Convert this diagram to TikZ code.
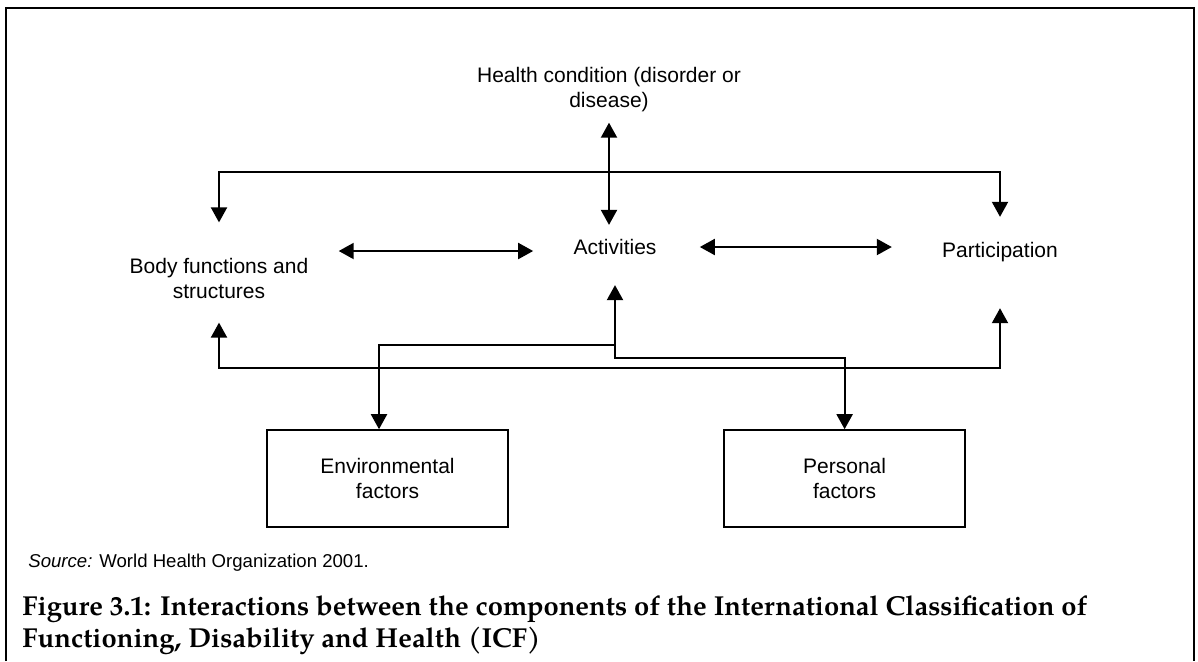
\documentclass[tikz,border=0pt]{standalone}
\usepackage{fontspec}
\setmainfont{Liberation Sans}
\newfontfamily\capfont{TeX Gyre Pagella}
\usetikzlibrary{arrows.meta, positioning}

\begin{document}
\begin{tikzpicture}[
    x=0.5pt, y=-0.5pt,
    every node/.style={font=\fontsize{10.5}{12.5}\selectfont, inner sep=0pt},
    term/.style={align=center},
    factor/.style={rectangle, draw, line width=0.8pt, minimum width=120.5pt, minimum height=48.5pt, align=center},
    arrow/.style={-{Triangle[length=7.5pt, width=8pt]}, line width=1pt},
    dblarrow/.style={{Triangle[length=7.5pt, width=8pt]}-{Triangle[length=7.5pt, width=8pt]}, line width=1pt}
  ]
    \useasboundingbox (0,0) rectangle (1198,661);
    \draw[line width=1pt] (6,661) -- (6,8) -- (1194,8) -- (1194,661);

    \node[term] (health) at (609,90) {Health condition (disorder or\\disease)};
    \node[term] (acts) at (615,247) {Activities};
    \node[term] (body) at (219,278) {Body functions and\\structures};
    \node[term] (part) at (1000,252) {Participation};
    \node[factor] (env) at (387.5,478.5) {Environmental\\factors};
    \node[factor, right=107.25pt of env] (pers) {Personal\\factors};

    \coordinate (topbar) at (609,172);
    \coordinate (lowbar) at (609,368);
    \coordinate (envjoin) at (615,345);
    \coordinate (persjoin) at (615,358);

    \draw[dblarrow] ([yshift=-5pt]health.south) -- ([yshift=7pt]health.south |- acts.north);
    \draw[dblarrow] ([yshift=17.5pt]body.north) |- (topbar) -| ([yshift=12.5pt]part.north);
    \draw[dblarrow] ([yshift=-12pt]body.south) |- (lowbar) -| ([yshift=-23pt]part.south);
    \draw[dblarrow] ([xshift=15pt,yshift=-2pt]body.east |- acts.west) -- ([xshift=-20pt,yshift=-2pt]acts.west);
    \draw[dblarrow] ([xshift=21.5pt]acts.east) -- ([xshift=-25pt]part.west |- acts.east);
    \draw[dblarrow] ([yshift=-15pt]acts.south) -- (envjoin) -| ([xshift=-4.25pt]env.north);
    \draw[arrow] (envjoin) -- (persjoin) -| (pers.north);

    \node[anchor=base west, font=\fontsize{9.3}{11}\selectfont] (source) at (28,567) {\textit{Source:} World Health Organization 2001.};
    \node[anchor=north west, align=left, font=\capfont\bfseries\fontsize{13.7}{16}\selectfont] (caption) at (22,595)
      {Figure 3.1: Interactions between the components of the International Classification of\\Functioning, Disability and Health (ICF)};
  \end{tikzpicture}
\end{document}
